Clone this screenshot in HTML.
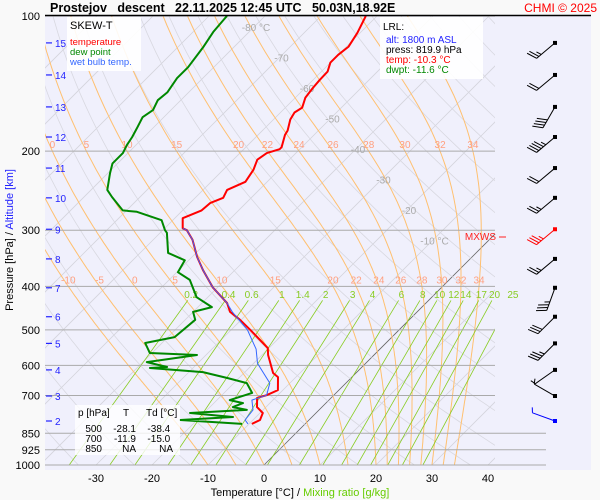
<!DOCTYPE html>
<html><head><meta charset="utf-8"><style>
body{margin:0;background:#fff;}
svg{display:block;font-family:"Liberation Sans",sans-serif;}
</style></head><body>
<svg id="chart" width="600" height="500" viewBox="0 0 600 500">
<rect x="0" y="0" width="600" height="500" fill="#f9f9f9"/>
<rect x="45" y="16" width="546" height="454" fill="#f0f0fc"/>
<defs><clipPath id="pc"><rect x="45" y="16" width="450" height="449"/></clipPath></defs>
<g id="grid" clip-path="url(#pc)"></g>
<g id="hlines"></g>
<g id="labels"></g>
<g id="profiles" clip-path="url(#pc)"></g>
<g id="axes"></g>
<g id="barbs"></g>
<line x1="45" y1="15.5" x2="591" y2="15.5" stroke="#000" stroke-width="1.5"/>
<text x="50" y="12" font-size="12.5" font-weight="bold" style="white-space:pre">Prostejov   descent   22.11.2025 12:45 UTC   50.03N,18.92E</text>
<text x="597" y="12" font-size="12" fill="#f00" text-anchor="end">CHMI © 2025</text>
<g>
<rect x="67" y="17" width="74" height="54" fill="#fff" opacity="0.9"/>
<text x="70" y="29" font-size="11">SKEW-T</text>
<text x="70" y="45" font-size="9.5" fill="#f00">temperature</text>
<text x="70" y="55" font-size="9.5" fill="#080">dew point</text>
<text x="70" y="65" font-size="9.5" fill="#36f">wet bulb temp.</text>
</g>
<g>
<rect x="380" y="17" width="103" height="62" fill="#fff" opacity="0.9"/>
<text x="383" y="30" font-size="10">LRL:</text>
<text x="386" y="43" font-size="10" fill="#22f">alt: 1800 m ASL</text>
<text x="386" y="53" font-size="10">press: 819.9 hPa</text>
<text x="386" y="63" font-size="10" fill="#f00">temp: -10.3 °C</text>
<text x="386" y="73" font-size="10" fill="#080">dwpt: -11.6 °C</text>
</g>
<g>
<rect x="75" y="405" width="105" height="50" fill="#fff" opacity="0.8"/>
<text x="78" y="416" font-size="10">p [hPa]</text>
<text x="123" y="416" font-size="10">T</text>
<text x="146" y="416" font-size="10">Td [°C]</text>
<text font-size="10" text-anchor="end">
<tspan x="102" y="432">500</tspan><tspan x="136" y="432">-28.1</tspan><tspan x="173" y="432">-38.4</tspan>
<tspan x="102" y="442">700</tspan><tspan x="136" y="442">-11.9</tspan><tspan x="173" y="442">-15.0</tspan>
<tspan x="102" y="452">850</tspan><tspan x="136" y="452">NA</tspan><tspan x="173" y="452">NA</tspan>
</text></g>
<text x="496" y="240" font-size="10" fill="#f22" text-anchor="end">MXWS</text>
<line x1="499" y1="237" x2="506" y2="237" stroke="#f22"/>
<text x="300" y="496" font-size="11" text-anchor="middle">Temperature [°C]  /  <tspan fill="#6c0">Mixing ratio [g/kg]</tspan></text>
<text transform="translate(13,240) rotate(-90)" font-size="11" text-anchor="middle">Pressure [hPa]  /  <tspan fill="#22f">Altitude [km]</tspan></text>
<script>
// ---- data ----
const tempP=[100,109,117,122,127,133,139,145,152,160,164,170,180,184,196,198,202,209,220,234,244,254,261,271,282,297,300,315,344,368,402,436,456,475,500,549,569,624,637,681,699,709,743,766,794,810];
const tempT=[-62.0,-60.5,-59.6,-60.0,-60.0,-58.9,-58.8,-58.6,-58.2,-57.0,-57.5,-57.0,-55.5,-55.2,-53.6,-53.6,-55.2,-55.7,-54.6,-53.9,-55.7,-55.0,-56.4,-56.6,-58.6,-56.8,-55.7,-53.0,-49.1,-45.7,-40.9,-35.5,-33.4,-30.2,-26.6,-20.2,-18.9,-14.8,-13.2,-10.9,-12.0,-13.2,-11.6,-9.5,-8.75,-9.5];
const dewP=[100,108.5,117,130,137.5,148,154,162,168,177,186,194,202,213,224,244,253,271,273,285,300,304,337,350,372,387,423,445,456,475,519,535,563,569,590,605,608,621,640,657,691,717,728,743,754,766,782,794,810];
const dewT=[-86.8,-86.4,-85.5,-84.6,-84.6,-83.8,-84.1,-83.2,-83.8,-82.9,-82.1,-81.6,-80.9,-80.9,-79.6,-77.1,-75.0,-70.7,-67.9,-62.0,-59.6,-58.8,-55.0,-50.7,-49.8,-46.3,-42.0,-37.5,-40.0,-38.2,-38.8,-43.0,-40.4,-31.6,-39.3,-34.8,-37.7,-27.5,-22.1,-17.7,-15.0,-17.7,-14.8,-15.9,-12.9,-22.5,-14.1,-23.0,-11.25];
const wbP=[297,300,315,344,368,402,436,456,500,552,594,657,699,717,754,794,810];
const wbT=[-56.8,-55.7,-53.0,-49.1,-45.7,-40.9,-35.5,-33.0,-27.1,-22.1,-19.3,-13.6,-12.0,-13.75,-11.8,-11.4,-10.2];
const pressTicks=[100,200,300,400,500,600,700,850,925,1000];
const xTicks=[-30,-20,-10,0,10,20,30,40];
const isoLabels=[-80,-70,-60,-50,-40,-30,-20,-10];
const thwVals=[-10,-5,0,5,10,15,20,22,24,26,28,30,32,34];
const mixVals=[0.2,0.4,0.6,1,1.4,2,3,4,6,8,10,12,14,17,20,25];
const kmVals=[15,14,13,12,11,10,9,8,7,6,5,4,3,2];
const kmP=[114.8,135.3,159.4,186,218.1,254.1,298.5,347.5,403,467.5,536,614,702,798];
const windP=[114.8,135.3,159.4,186,218.1,254.1,298.5,347.5,403,467.5,536,614,702,798];
const windDir=[230,230,210,230,230,230,230,230,200,225,225,235,300,290];
const windKt=[25,20,40,45,20,25,35,25,35,30,35,5,5,5];
// ---- axes ----
const NS='http://www.w3.org/2000/svg';
function yP(p){return 16+Math.log10(p/100)*449;}
function xT(t,p){return 264+5.6*t+(465-yP(p));}
function mk(tag,attrs,parent){const e=document.createElementNS(NS,tag);for(const k in attrs)e.setAttribute(k,attrs[k]);document.getElementById(parent).appendChild(e);return e;}
function txt(s,attrs,parent){const e=mk('text',attrs,parent);e.textContent=s;return e;}
for(let t=-130;t<=40;t+=10){const l=mk('line',{x1:xT(t,1000),y1:yP(1000),x2:xT(t,100),y2:yP(100),stroke:t===0?'#666':'#d4d4dc','stroke-width':0.8},'grid');

}
for(let th=230;th<=480;th+=10){let d='';for(let p=1000;p>=100;p-=10){const t=th*Math.pow(p/1000,0.286)-273.15;d+=(p===1000?'M':'L')+xT(t,p).toFixed(1)+','+yP(p).toFixed(1);}
const e=mk('path',{d:d,fill:'none',stroke:'#d8d8e0','stroke-width':0.8},'grid');

}
function es(tc){return 6.112*Math.exp(17.67*tc/(tc+243.5));}
thwVals.forEach(v=>{let T=v+273.15,d='M'+xT(v,1000).toFixed(1)+','+yP(1000).toFixed(1);
for(let p=1000;p>100;p-=5){const e=es(T-273.15),rs=0.622*e/(p-e);const dT=(287*T+2.5e6*rs)/(p*(1005+2.5e6*2.5e6*rs*0.622/(287*T*T)));T-=dT*5;d+='L'+xT(T-273.15,p-5).toFixed(1)+','+yP(p-5).toFixed(1);}
const e=mk('path',{d:d,fill:'none',stroke:'#ffc070','stroke-width':1},'grid');


[200,400].forEach(pl=>{let T2=v+273.15;for(let p=1000;p>pl;p-=5){const e2=es(T2-273.15),rs=0.622*e2/(p-e2);T2-=5*(287*T2+2.5e6*rs)/(p*(1005+2.5e6*2.5e6*rs*0.622/(287*T2*T2)));}
const x=xT(T2-273.15,pl);if(x>45&&x<495){const l=txt(String(v),{x:x,y:yP(pl)-3,'font-size':10,fill:'#ffa080','text-anchor':'middle'},'labels');

}});});
mixVals.forEach(w=>{let d='';const ps=[430,1000];ps.forEach((p,i)=>{const e=w*p/(622+w),L=Math.log(e/6.112),t=243.5*L/(17.67-L);d+=(i?'L':'M')+xT(t,p).toFixed(1)+','+yP(p).toFixed(1);});
const e=mk('path',{d:d,stroke:'#8c2','stroke-width':0.8,fill:'none'},'grid');


const e0=w*420/(622+w),L0=Math.log(e0/6.112),t0=243.5*L0/(17.67-L0);
const l=txt(String(w),{x:xT(t0,420),y:298,'font-size':10,fill:'#8c2','text-anchor':'middle'},'labels');

});
isoLabels.forEach((t,i)=>{const y=27+i*30.5;const x=264+5.6*t+(465-y);const l=txt(t+((t===-80||t===-10)?' °C':''),{x:x+2,y:y+4,'font-size':10,fill:'#aaa','text-anchor':'middle'},'labels');

});
pressTicks.forEach(p=>{const y=yP(p);const l=mk('line',{x1:45,y1:y,x2:p>=850?546:495,y2:y,stroke:'#aaa','stroke-width':1},'hlines');


const t=txt(String(p),{x:40,y:y+4,'font-size':11,'text-anchor':'end'},'axes');

});
xTicks.forEach(t=>{const tl=txt(String(t),{x:xT(t,1000),y:482,'font-size':11,'text-anchor':'middle'},'axes');

});
kmVals.forEach((k,i)=>{const y=yP(kmP[i]);const l=mk('line',{x1:46,y1:y,x2:52,y2:y,stroke:'#22f','stroke-width':1.2},'axes');


const t=txt(String(k),{x:55,y:y+4,'font-size':10,fill:'#22f'},'axes');

});
function line(P,T,col,w,name){const d=P.map((p,i)=>(i?'L':'M')+xT(T[i],p).toFixed(1)+','+yP(p).toFixed(1)).join('');
const e=mk('path',{d:d,fill:'none',stroke:col,'stroke-width':w,'stroke-linejoin':'round'},'profiles');

}
line(dewP,dewT,'#080',2,'dew-point-line');
line(tempP,tempT,'#f00',2,'temperature-line');
line(wbP,wbT,'#36f',1,'wet-bulb-line');
windP.forEach((p,i)=>{const y=yP(p),x0=555;const a=(windDir[i])*Math.PI/180;const L=24;const ux=Math.sin(a),uy=-Math.cos(a);
const x1=x0+ux*L,y1=y+uy*L;const col=i===6?'#f00':(i===13?'#00f':'#000');
const g=mk('g',{},'barbs');


const s=document.createElementNS(NS,'line');s.setAttribute('x1',x0);s.setAttribute('y1',y);s.setAttribute('x2',x1);s.setAttribute('y2',y1);s.setAttribute('stroke',col);g.appendChild(s);
const c=document.createElementNS(NS,'rect');c.setAttribute('x',x0-2);c.setAttribute('y',y-2);c.setAttribute('width',4);c.setAttribute('height',4);c.setAttribute('fill',col);g.appendChild(c);
let kt=windKt[i],pos=0;const px=-uy,py=ux;
while(kt>=10){const bx=x1-ux*pos*3,by=y1-uy*pos*3;const b=document.createElementNS(NS,'line');b.setAttribute('x1',bx);b.setAttribute('y1',by);b.setAttribute('x2',bx+px*10+ux*4);b.setAttribute('y2',by+py*10+uy*4);b.setAttribute('stroke',col);g.appendChild(b);kt-=10;pos++;}
if(kt>=5){const bx=x1-ux*pos*3,by=y1-uy*pos*3;const b=document.createElementNS(NS,'line');b.setAttribute('x1',bx);b.setAttribute('y1',by);b.setAttribute('x2',bx+px*5+ux*2);b.setAttribute('y2',by+py*5+uy*2);b.setAttribute('stroke',col);g.appendChild(b);}});
</script>
</svg>
</body></html>
